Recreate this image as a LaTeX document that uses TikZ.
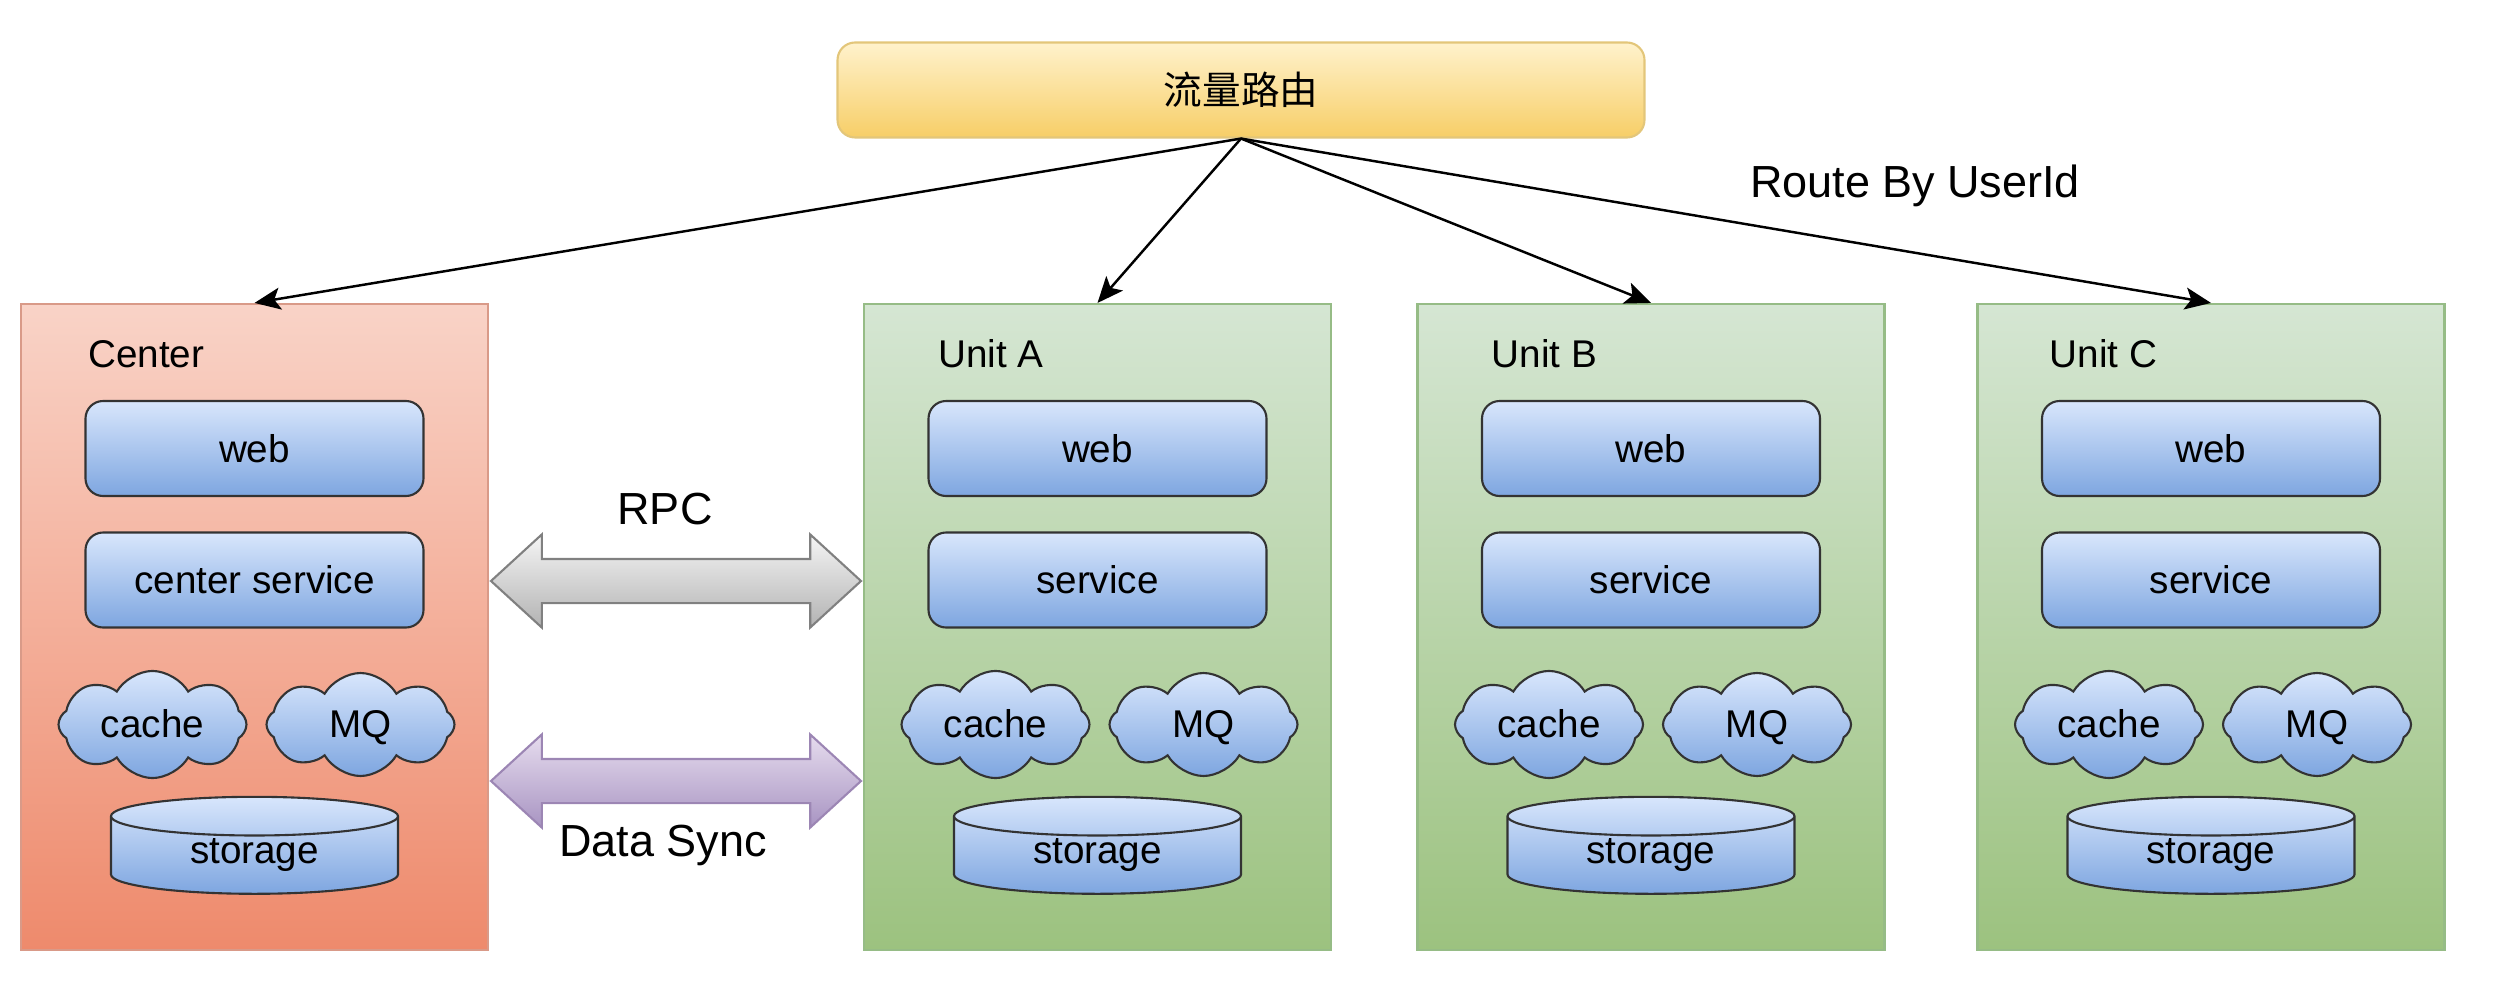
\documentclass[tikz,border=0pt]{standalone}
\usepackage{fontspec}
\setmainfont{Liberation Sans}
\newfontfamily\cjk{Noto Sans CJK SC}
\usepackage{tikz}
\usetikzlibrary{arrows.meta, calc, shapes.geometric, shapes.symbols, shapes.arrows}

\definecolor{bluetop}{HTML}{D8E6FC}
\definecolor{bluebot}{HTML}{7EA6E0}
\definecolor{redtop}{HTML}{F9D3C7}
\definecolor{redbot}{HTML}{EE8A6C}
\definecolor{redline}{HTML}{D99A88}
\definecolor{greentop}{HTML}{D5E6D3}
\definecolor{greenbot}{HTML}{9CC27F}
\definecolor{greenline}{HTML}{96BC86}
\definecolor{yellowtop}{HTML}{FFF2CC}
\definecolor{yellowbot}{HTML}{F7CE67}
\definecolor{yellowline}{HTML}{E3C67A}
\definecolor{synctop}{HTML}{E6DCEE}
\definecolor{syncbot}{HTML}{A894C2}
\definecolor{syncline}{HTML}{9C86B4}

\begin{document}
\begin{tikzpicture}[
  link/.style={-{Stealth[length=2.6mm, width=2.2mm, inset=0.6mm]}, line width=0.7pt},
  note/.style={font=\fontsize{12.8}{15}\selectfont},
  boxlabel/.style={anchor=west, inner sep=0pt, font=\fontsize{11}{13}\selectfont},
  centerbox/.style={rectangle, draw=redline, line width=0.6pt, top color=redtop, bottom color=redbot, minimum width=4.67cm, minimum height=6.46cm},
  unitbox/.style={rectangle, draw=greenline, line width=0.6pt, top color=greentop, bottom color=greenbot, minimum width=4.67cm, minimum height=6.46cm},
  blk/.style={rectangle, rounded corners=5pt, draw=black!80, line width=0.6pt, top color=bluetop, bottom color=bluebot, minimum width=3.38cm, minimum height=0.95cm, font=\fontsize{11}{13}\selectfont},
  puff/.style={cloud, cloud puffs=8, cloud puff arc=120, aspect=1.8, draw=black!80, line width=0.6pt, top color=bluetop, bottom color=bluebot, minimum width=1.88cm, minimum height=1.03cm, inner sep=0pt, text height=1.6ex, text depth=0.2ex, font=\fontsize{11}{13}\selectfont},
  db/.style={cylinder, shape border rotate=90, aspect=0.3, draw=black!80, line width=0.6pt, top color=bluetop, bottom color=bluebot, minimum width=2.87cm, minimum height=0.97cm, inner sep=0pt, font=\fontsize{11}{13}\selectfont},
  twoway/.style={double arrow, double arrow tip angle=85, double arrow head extend=0.245cm, inner xsep=0pt, inner ysep=0.21cm, minimum height=3.70cm, line width=0.6pt}
]
\useasboundingbox (0,0) rectangle (24.94,-10.02);

\node[rectangle, rounded corners=5pt, draw=yellowline, line width=0.6pt, top color=yellowtop, bottom color=yellowbot, minimum width=8.07cm, minimum height=0.95cm, font=\fontsize{11}{13}\selectfont] (route) at (12.41,-0.90) {\cjk 流量路由};

% center
\begin{scope}[xshift=2.545cm]
\node[centerbox] (center) at (0,-6.27) {};
\node[boxlabel] (centerlab) at (-1.67,-3.54) {Center};
\node[blk] (centerweb) at (0,-4.485) {web};
\node[blk] (centersvc) at (0,-5.80) {center service};
\node[puff] (centercache) at (-1.02,-7.245) {cache};
\node[puff] (centermq) at (1.06,-7.245) {MQ};
\node[db] (centerdb) at (0,-8.555) {storage};
\end{scope}

% unit A
\begin{scope}[xshift=10.975cm]
\node[unitbox] (unitA) at (0,-6.27) {};
\node[boxlabel] (labA) at (-1.60,-3.54) {Unit A};
\node[blk] (webA) at (0,-4.485) {web};
\node[blk] (svcA) at (0,-5.80) {service};
\node[puff] (cacheA) at (-1.02,-7.245) {cache};
\node[puff] (mqA) at (1.06,-7.245) {MQ};
\node[db] (dbA) at (0,-8.555) {storage};
\end{scope}

% unit B
\begin{scope}[xshift=16.51cm]
\node[unitbox] (unitB) at (0,-6.27) {};
\node[boxlabel] (labB) at (-1.60,-3.54) {Unit B};
\node[blk] (webB) at (0,-4.485) {web};
\node[blk] (svcB) at (0,-5.80) {service};
\node[puff] (cacheB) at (-1.02,-7.245) {cache};
\node[puff] (mqB) at (1.06,-7.245) {MQ};
\node[db] (dbB) at (0,-8.555) {storage};
\end{scope}

% unit C
\begin{scope}[xshift=22.11cm]
\node[unitbox] (unitC) at (0,-6.27) {};
\node[boxlabel] (labC) at (-1.62,-3.54) {Unit C};
\node[blk] (webC) at (0,-4.485) {web};
\node[blk] (svcC) at (0,-5.80) {service};
\node[puff] (cacheC) at (-1.02,-7.245) {cache};
\node[puff] (mqC) at (1.06,-7.245) {MQ};
\node[db] (dbC) at (0,-8.555) {storage};
\end{scope}

\draw[link] (route.south) -- (center.north);
\draw[link] (route.south) -- (unitA.north);
\draw[link] (route.south) -- (unitB.north);
\draw[link] (route.south) -- (unitC.north);
\node[note] (routelab) at (19.15,-1.86) {Route By UserId};

\node[twoway, draw=black!50, top color=black!4, bottom color=black!30] (rpc) at ($(center.east)!0.5!(unitA.west) + (0,0.46)$) {};
\node[twoway, draw=syncline, top color=synctop, bottom color=syncbot] (sync) at ($(center.east)!0.5!(unitA.west) + (0,-1.54)$) {};
\node[note] (rpclab) at (6.65,-5.09) {RPC};
\node[note] (synclab) at (6.63,-8.45) {Data Sync};
\end{tikzpicture}
\end{document}
